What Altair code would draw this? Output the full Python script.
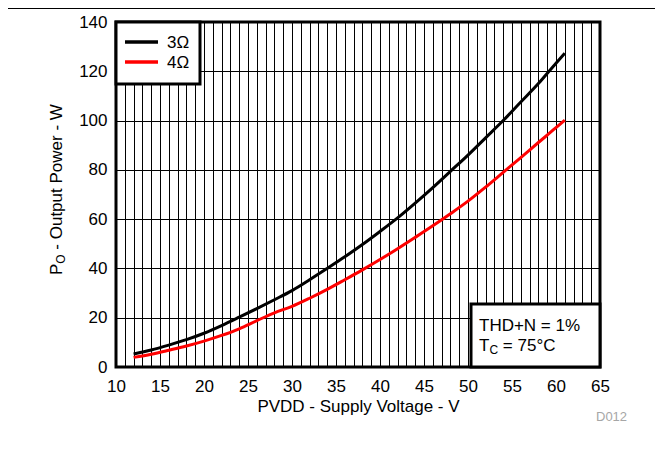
import altair as alt
import pandas as pd

# ---- data ----
voltage = [12, 14, 16, 18, 20, 22, 24, 26, 28, 30, 32, 34, 36, 38, 40,
           42, 44, 46, 48, 50, 52, 54, 56, 58, 60, 61]
power_3ohm = [5.3, 6.9, 8.9, 11.1, 13.7, 16.8, 20.2, 23.7, 27.3, 31.0, 35.4, 40.0, 44.7, 49.7, 55.0,
              60.5, 66.5, 72.8, 79.4, 86.0, 93.0, 100.0, 107.5, 115.0, 123.3, 127.3]
power_4ohm = [3.9, 5.2, 6.8, 8.5, 10.5, 12.8, 15.5, 18.8, 22.0, 24.6, 27.9, 31.5, 35.4, 39.4, 43.6,
              48.0, 52.6, 57.3, 62.2, 67.3, 73.0, 79.0, 85.0, 91.1, 97.1, 100.2]
series = ["3\u03a9", "4\u03a9"]
colors = ["#000000", "#ff0000"]
x_ticks = list(range(10, 66))
y_ticks = [0, 20, 40, 60, 80, 100, 120, 140]
x_title = "PVDD - Supply Voltage - V"
y_title_parts = ["P", "O", "- Output Power - W"]
note_line1 = "THD+N = 1%"
note_line2_parts = ["T", "C", "= 75\u00b0C"]
figure_id = "D012"

FONT = "Liberation Sans"
W, H = 484, 345
SPACE = 0.278 * 17

rows = []
for v, a, b in zip(voltage, power_3ohm, power_4ohm):
    rows.append({"V": v, "P": a, "s": series[0]})
    rows.append({"V": v, "P": b, "s": series[1]})
df = pd.DataFrame(rows)
one = pd.DataFrame({"a": [0]})

lines = alt.Chart(df).mark_line(strokeWidth=3, interpolate="monotone").encode(
    x=alt.X("V:Q", scale=alt.Scale(domain=[10, 65], nice=False),
            axis=alt.Axis(values=x_ticks, title=x_title,
                          labelExpr="datum.value % 5 === 0 ? datum.label : ''",
                          labelOverlap=False, labelFlush=False, labelPadding=11,
                          titlePadding=4)),
    y=alt.Y("P:Q", scale=alt.Scale(domain=[0, 140], nice=False),
            axis=alt.Axis(values=y_ticks, title=None, labelPadding=9,
                          labelOverlap=False, labelFlush=False)),
    color=alt.Color("s:N", scale=alt.Scale(domain=series, range=colors), legend=None),
)

layers = [lines]

# legend box
layers.append(alt.Chart(one).mark_rect(fill="white", stroke="black", strokeWidth=3).encode(
    x=alt.value(0), x2=alt.value(84), y=alt.value(0), y2=alt.value(62)))
for i, (s, c) in enumerate(zip(series, colors)):
    yy = 20 + 20 * i
    layers.append(alt.Chart(one).mark_rule(color=c, strokeWidth=3.5).encode(
        x=alt.value(9), x2=alt.value(42), y=alt.value(yy)))
    layers.append(alt.Chart(one).mark_text(text=s, font=FONT, fontSize=17, align="left",
                                           baseline="middle", color="black").encode(
        x=alt.value(51), y=alt.value(yy + 1)))

# annotation box
layers.append(alt.Chart(one).mark_rect(fill="white", stroke="black", strokeWidth=3).encode(
    x=alt.value(355), x2=alt.value(W), y=alt.value(282), y2=alt.value(H)))
layers.append(alt.Chart(one).mark_text(text=note_line1, font=FONT, fontSize=17, align="left",
                                       baseline="alphabetic", color="black").encode(
    x=alt.value(363), y=alt.value(309)))
layers.append(alt.Chart(one).mark_text(text=note_line2_parts[0], font=FONT, fontSize=17, align="left",
                                       baseline="alphabetic", color="black").encode(
    x=alt.value(363), y=alt.value(329)))
layers.append(alt.Chart(one).mark_text(text=note_line2_parts[1], font=FONT, fontSize=12, align="left",
                                       baseline="alphabetic", color="black").encode(
    x=alt.value(373.4), y=alt.value(332)))
layers.append(alt.Chart(one).mark_text(text=note_line2_parts[2], font=FONT, fontSize=17, align="left",
                                       baseline="alphabetic", color="black").encode(
    x=alt.value(382.1 + SPACE), y=alt.value(329)))

# y title with subscript
y0 = 253
layers.append(alt.Chart(one).mark_text(text=y_title_parts[0], font=FONT, fontSize=17, align="left",
                                       baseline="alphabetic", angle=270, color="black").encode(
    x=alt.value(-54), y=alt.value(y0)))
layers.append(alt.Chart(one).mark_text(text=y_title_parts[1], font=FONT, fontSize=12, align="left",
                                       baseline="alphabetic", angle=270, color="black").encode(
    x=alt.value(-51), y=alt.value(y0 - 11.3)))
layers.append(alt.Chart(one).mark_text(text=y_title_parts[2], font=FONT, fontSize=17, align="left",
                                       baseline="alphabetic", angle=270, color="black").encode(
    x=alt.value(-54), y=alt.value(y0 - 11.3 - 9.3 - SPACE)))

# figure id
layers.append(alt.Chart(one).mark_text(text=figure_id, font=FONT, fontSize=13, align="left",
                                       baseline="alphabetic", color="#a6a6a6").encode(
    x=alt.value(480), y=alt.value(398.7)))

# top rule
layers.append(alt.Chart(one).mark_rule(color="black", strokeWidth=1).encode(
    x=alt.value(-108), x2=alt.value(539), y=alt.value(-13.5)))

chart = alt.layer(*layers).properties(
    width=W, height=H,
    autosize=alt.AutoSizeParams(type="none"),
    padding={"left": 108, "top": 14, "right": 55, "bottom": 70},
).configure_view(stroke="black", strokeWidth=3).configure_axis(
    grid=True, gridColor="#000000", gridWidth=1, gridOpacity=1,
    ticks=False, domain=False,
    labelFont=FONT, labelFontSize=17, labelColor="black",
    titleFont=FONT, titleFontSize=17, titleColor="black", titleFontWeight="normal",
)

chart.save("out.html", embed_options={"renderer": "svg", "actions": False})
